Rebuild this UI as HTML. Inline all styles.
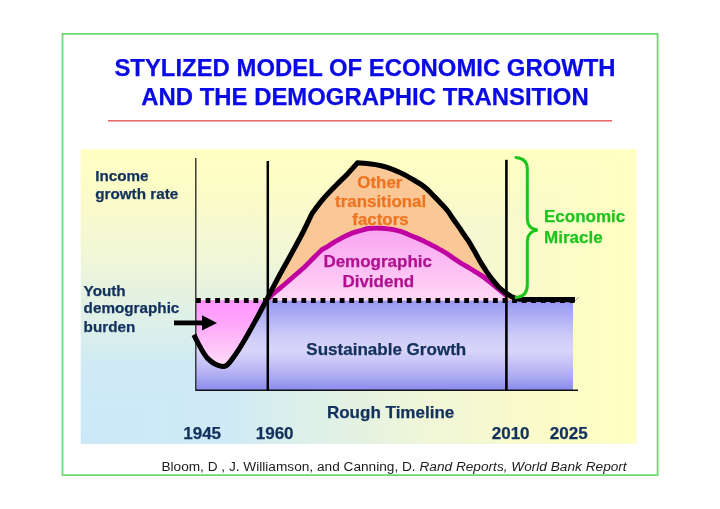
<!DOCTYPE html>
<html><head><meta charset="utf-8"><title>Stylized Model of Economic Growth</title>
<style>
html,body{margin:0;padding:0;background:#ffffff;width:720px;height:509px;overflow:hidden;}
svg{display:block;filter:blur(0.4px);font-family:"Liberation Sans",sans-serif;}
</style></head><body>
<svg width="720" height="509" viewBox="0 0 720 509">
<defs>
<linearGradient id="bgv" x1="0" y1="443.8" x2="0" y2="149.1" gradientUnits="userSpaceOnUse">
<stop offset="0" stop-color="#cce8f8"/>
<stop offset="0.27" stop-color="#cfeaf5"/>
<stop offset="0.35" stop-color="#d8eeee"/>
<stop offset="0.42" stop-color="#def0e8"/>
<stop offset="0.52" stop-color="#e6f2e0"/>
<stop offset="0.62" stop-color="#f0f6d8"/>
<stop offset="0.83" stop-color="#fbfbc9"/>
<stop offset="1" stop-color="#ffffc3"/>
</linearGradient>
<linearGradient id="bgh" x1="80.7" y1="0" x2="636.3" y2="0" gradientUnits="userSpaceOnUse">
<stop offset="0" stop-color="#cce8f8"/>
<stop offset="0.27" stop-color="#cfeaf5"/>
<stop offset="0.35" stop-color="#d8eeee"/>
<stop offset="0.42" stop-color="#def0e8"/>
<stop offset="0.52" stop-color="#e6f2e0"/>
<stop offset="0.62" stop-color="#f0f6d8"/>
<stop offset="0.83" stop-color="#fbfbc9"/>
<stop offset="1" stop-color="#ffffc3"/>
</linearGradient>
<linearGradient id="blue" x1="0" y1="300" x2="0" y2="390" gradientUnits="userSpaceOnUse">
<stop offset="0" stop-color="#9696f1"/>
<stop offset="0.22" stop-color="#b4b4f6"/>
<stop offset="0.39" stop-color="#cccaf8"/>
<stop offset="0.56" stop-color="#d9d5fa"/>
<stop offset="0.72" stop-color="#c4c0f6"/>
<stop offset="0.87" stop-color="#a8a8f2"/>
<stop offset="1" stop-color="#8a8aed"/>
</linearGradient>
<linearGradient id="pinkLow" x1="0" y1="300" x2="0" y2="366" gradientUnits="userSpaceOnUse">
<stop offset="0" stop-color="#ff94fd"/>
<stop offset="0.35" stop-color="#ffa6fb"/>
<stop offset="1" stop-color="#ffdcf8"/>
</linearGradient>
<linearGradient id="pinkUp" x1="0" y1="226" x2="0" y2="300" gradientUnits="userSpaceOnUse">
<stop offset="0" stop-color="#f9a2f2"/>
<stop offset="1" stop-color="#ffd6f6"/>
</linearGradient>
</defs>

<!-- green frame -->
<rect x="62.5" y="33.9" width="595.1" height="441.2" fill="none" stroke="#72d872" stroke-width="1.8"/>

<!-- title -->
<g fill="#0a0ae6" stroke="#0a0ae6" stroke-width="0.25" font-weight="bold" font-size="23.9" text-anchor="middle">
<text x="365" y="75.8">STYLIZED MODEL OF ECONOMIC GROWTH</text>
<text x="365" y="104.5">AND THE DEMOGRAPHIC TRANSITION</text>
</g>
<rect x="108" y="120" width="504" height="1.6" fill="#e86a6a"/>

<!-- panel -->
<rect x="80.7" y="149.1" width="555.6" height="294.7" fill="url(#bgv)"/>
<path d="M80.7,443.8 L636.3,149.1 L636.3,443.8 Z" fill="url(#bgh)"/>

<!-- sustainable growth band -->
<rect x="196" y="300" width="377" height="90" fill="url(#blue)"/>

<!-- peach area under black curve -->
<clipPath id="above"><rect x="150" y="150" width="450" height="150.3"/></clipPath>
<clipPath id="below"><rect x="196" y="300" width="80" height="90"/></clipPath>
<path clip-path="url(#above)" d="M193.9,334.8 C194.6,336.1 196.3,339.9 197.8,342.7 C199.3,345.5 201.1,348.9 202.7,351.5 C204.3,354.1 205.6,356.3 207.6,358.4 C209.6,360.4 212.2,362.5 214.5,363.8 C216.8,365.1 219.4,366.0 221.4,366.3 C223.4,366.6 224.7,366.6 226.3,365.6 C227.9,364.6 229.3,362.8 231.2,360.4 C233.1,358.0 235.6,354.4 237.7,351.2 C239.8,348.0 241.8,344.6 243.8,341.2 C245.9,337.8 247.6,334.7 250.0,330.5 C252.4,326.3 255.3,320.8 258.0,315.9 C260.7,310.9 263.8,305.1 266.1,300.8 C268.4,296.5 269.1,295.0 271.6,290.3 C274.1,285.6 277.6,278.8 281.0,272.6 C284.4,266.4 288.2,259.6 291.8,253.0 C295.4,246.4 299.2,239.6 302.6,233.0 C306.0,226.4 310.4,216.8 312.0,213.5 C313.8,211.2 318.8,204.0 322.7,199.5 C326.6,195.0 331.0,190.6 335.1,186.3 C339.2,182.0 343.8,177.8 347.5,173.9 C351.2,170.0 355.8,164.7 357.5,162.8 C359.7,163.0 367.1,163.6 370.8,164.0 C374.6,164.4 377.1,164.8 380.0,165.4 C382.9,166.0 385.5,166.9 388.3,167.8 C391.1,168.8 393.9,169.9 396.7,171.1 C399.5,172.3 402.2,173.4 405.0,174.9 C407.8,176.4 410.5,178.1 413.3,179.8 C416.1,181.5 419.4,183.3 421.7,184.9 C424.0,186.5 425.3,187.6 427.4,189.5 C429.5,191.4 432.0,194.2 434.4,196.6 C436.8,199.0 439.3,201.6 441.5,203.9 C443.7,206.2 445.4,207.9 447.4,210.5 C449.4,213.1 451.3,216.4 453.3,219.2 C455.3,222.0 457.4,224.8 459.2,227.4 C461.0,230.0 462.3,232.2 463.9,234.5 C465.5,236.8 467.0,238.6 468.7,241.3 C470.4,244.0 472.2,247.3 474.1,250.6 C476.0,253.9 478.0,257.9 480.0,261.2 C482.0,264.5 483.9,267.7 485.9,270.6 C487.9,273.6 489.6,276.1 491.8,278.9 C494.0,281.7 496.5,284.8 498.9,287.2 C501.3,289.6 503.6,291.3 506.0,293.0 C508.4,294.7 510.7,296.3 513.0,297.3 C515.3,298.3 518.8,298.9 520.0,299.2 L575,299.6 L575,305 L190,305 Z" fill="#f9c896"/>
<!-- pink upper (demographic dividend) -->
<path d="M268.5,299.3 C269.0,298.6 269.3,297.3 271.3,295.4 C273.3,293.4 277.3,290.5 280.7,287.6 C284.1,284.7 287.8,281.6 291.7,278.2 C295.6,274.8 300.6,270.6 304.3,267.2 C308.0,263.8 310.8,260.6 313.7,257.7 C316.6,254.8 320.3,251.2 321.6,249.9 C322.7,249.3 325.8,247.7 328.0,246.3 C330.2,244.9 332.4,243.2 335.0,241.7 C337.6,240.2 340.5,238.5 343.3,237.1 C346.1,235.7 348.9,234.4 351.7,233.3 C354.5,232.2 357.2,231.6 360.0,230.8 C362.8,230.0 365.5,228.9 368.3,228.5 C371.1,228.1 373.9,228.1 376.7,228.1 C379.5,228.1 382.2,228.2 385.0,228.5 C387.8,228.8 390.7,229.1 393.3,229.6 C395.9,230.1 398.1,230.6 400.7,231.4 C403.2,232.2 406.0,233.5 408.6,234.6 C411.2,235.7 413.8,236.7 416.4,237.8 C419.0,238.9 421.7,240.1 424.3,241.3 C426.9,242.6 429.8,244.0 432.2,245.3 C434.6,246.6 436.7,247.7 439.0,249.0 C441.3,250.3 443.6,251.5 446.0,253.0 C448.4,254.5 451.0,256.4 453.6,258.2 C456.2,259.9 458.8,261.9 461.4,263.5 C464.0,265.1 466.8,266.5 469.3,268.0 C471.8,269.5 474.1,271.0 476.5,272.5 C478.9,274.0 481.1,275.1 483.6,277.0 C486.2,278.9 489.3,281.6 491.8,283.6 C494.3,285.6 496.2,287.2 498.6,289.2 C501.0,291.1 504.8,294.3 506.0,295.3 L506,300.5 L268.5,300.5 Z" fill="url(#pinkUp)"/>
<!-- pink lower (youth burden) -->
<path clip-path="url(#below)" d="M193.9,334.8 C194.6,336.1 196.3,339.9 197.8,342.7 C199.3,345.5 201.1,348.9 202.7,351.5 C204.3,354.1 205.6,356.3 207.6,358.4 C209.6,360.4 212.2,362.5 214.5,363.8 C216.8,365.1 219.4,366.0 221.4,366.3 C223.4,366.6 224.7,366.6 226.3,365.6 C227.9,364.6 229.3,362.8 231.2,360.4 C233.1,358.0 235.6,354.4 237.7,351.2 C239.8,348.0 241.8,344.6 243.8,341.2 C245.9,337.8 247.6,334.7 250.0,330.5 C252.4,326.3 255.3,320.8 258.0,315.9 C260.7,310.9 263.8,305.1 266.1,300.8 C268.4,296.5 270.7,292.1 271.6,290.3 L190,285 Z" fill="url(#pinkLow)"/>
<!-- magenta line -->
<path d="M268.5,299.3 C269.0,298.6 269.3,297.3 271.3,295.4 C273.3,293.4 277.3,290.5 280.7,287.6 C284.1,284.7 287.8,281.6 291.7,278.2 C295.6,274.8 300.6,270.6 304.3,267.2 C308.0,263.8 310.8,260.6 313.7,257.7 C316.6,254.8 320.3,251.2 321.6,249.9 C322.7,249.3 325.8,247.7 328.0,246.3 C330.2,244.9 332.4,243.2 335.0,241.7 C337.6,240.2 340.5,238.5 343.3,237.1 C346.1,235.7 348.9,234.4 351.7,233.3 C354.5,232.2 357.2,231.6 360.0,230.8 C362.8,230.0 365.5,228.9 368.3,228.5 C371.1,228.1 373.9,228.1 376.7,228.1 C379.5,228.1 382.2,228.2 385.0,228.5 C387.8,228.8 390.7,229.1 393.3,229.6 C395.9,230.1 398.1,230.6 400.7,231.4 C403.2,232.2 406.0,233.5 408.6,234.6 C411.2,235.7 413.8,236.7 416.4,237.8 C419.0,238.9 421.7,240.1 424.3,241.3 C426.9,242.6 429.8,244.0 432.2,245.3 C434.6,246.6 436.7,247.7 439.0,249.0 C441.3,250.3 443.6,251.5 446.0,253.0 C448.4,254.5 451.0,256.4 453.6,258.2 C456.2,259.9 458.8,261.9 461.4,263.5 C464.0,265.1 466.8,266.5 469.3,268.0 C471.8,269.5 474.1,271.0 476.5,272.5 C478.9,274.0 481.1,275.1 483.6,277.0 C486.2,278.9 489.3,281.6 491.8,283.6 C494.3,285.6 496.2,287.2 498.6,289.2 C501.0,291.1 504.8,294.3 506.0,295.3" fill="none" stroke="#c000a0" stroke-width="4.8" stroke-linejoin="round"/>

<!-- dashed line -->
<line x1="196" y1="300.4" x2="575" y2="300.4" stroke="#000" stroke-width="5" stroke-dasharray="4.8 4.78"/>

<!-- axes -->
<line x1="195.8" y1="158" x2="195.8" y2="390.5" stroke="#222" stroke-width="1.3"/>
<line x1="195.5" y1="390.3" x2="578" y2="390.3" stroke="#111" stroke-width="1.6"/>
<line x1="267.8" y1="161" x2="267.8" y2="390.5" stroke="#000" stroke-width="2.5"/>
<line x1="506.4" y1="159.8" x2="506.4" y2="390.5" stroke="#000" stroke-width="2.6"/>

<!-- black curve -->
<path d="M193.9,334.8 C194.6,336.1 196.3,339.9 197.8,342.7 C199.3,345.5 201.1,348.9 202.7,351.5 C204.3,354.1 205.6,356.3 207.6,358.4 C209.6,360.4 212.2,362.5 214.5,363.8 C216.8,365.1 219.4,366.0 221.4,366.3 C223.4,366.6 224.7,366.6 226.3,365.6 C227.9,364.6 229.3,362.8 231.2,360.4 C233.1,358.0 235.6,354.4 237.7,351.2 C239.8,348.0 241.8,344.6 243.8,341.2 C245.9,337.8 247.6,334.7 250.0,330.5 C252.4,326.3 255.3,320.8 258.0,315.9 C260.7,310.9 263.8,305.1 266.1,300.8 C268.4,296.5 269.1,295.0 271.6,290.3 C274.1,285.6 277.6,278.8 281.0,272.6 C284.4,266.4 288.2,259.6 291.8,253.0 C295.4,246.4 299.2,239.6 302.6,233.0 C306.0,226.4 310.4,216.8 312.0,213.5 C313.8,211.2 318.8,204.0 322.7,199.5 C326.6,195.0 331.0,190.6 335.1,186.3 C339.2,182.0 343.8,177.8 347.5,173.9 C351.2,170.0 355.8,164.7 357.5,162.8 C359.7,163.0 367.1,163.6 370.8,164.0 C374.6,164.4 377.1,164.8 380.0,165.4 C382.9,166.0 385.5,166.9 388.3,167.8 C391.1,168.8 393.9,169.9 396.7,171.1 C399.5,172.3 402.2,173.4 405.0,174.9 C407.8,176.4 410.5,178.1 413.3,179.8 C416.1,181.5 419.4,183.3 421.7,184.9 C424.0,186.5 425.3,187.6 427.4,189.5 C429.5,191.4 432.0,194.2 434.4,196.6 C436.8,199.0 439.3,201.6 441.5,203.9 C443.7,206.2 445.4,207.9 447.4,210.5 C449.4,213.1 451.3,216.4 453.3,219.2 C455.3,222.0 457.4,224.8 459.2,227.4 C461.0,230.0 462.3,232.2 463.9,234.5 C465.5,236.8 467.0,238.6 468.7,241.3 C470.4,244.0 472.2,247.3 474.1,250.6 C476.0,253.9 478.0,257.9 480.0,261.2 C482.0,264.5 483.9,267.7 485.9,270.6 C487.9,273.6 489.6,276.1 491.8,278.9 C494.0,281.7 496.5,284.8 498.9,287.2 C501.3,289.6 503.6,291.3 506.0,293.0 C508.4,294.7 510.7,296.3 513.0,297.3 C515.3,298.3 518.8,298.9 520.0,299.2 L575,299.6" fill="none" stroke="#000" stroke-width="5.1" stroke-linejoin="round"/>
<path d="M575,301 L579,297" stroke="#999" stroke-width="0.8"/>

<!-- arrow -->
<rect x="174" y="320.5" width="30" height="4.8" fill="#000"/>
<path d="M202,315.3 L217,322.9 L202,330.4 Z" fill="#000"/>

<!-- brace -->
<path d="M516,157.5 Q527.3,158.5 527.3,169 L527.3,219 Q527.5,228.5 537.6,230.1 Q527.5,231.7 527.3,241 L527.3,285 Q527.3,296.5 516,297.6" fill="none" stroke="#1ec41e" stroke-width="3" stroke-linecap="round"/>

<!-- labels -->
<g font-weight="bold" fill="#12315c" stroke="#12315c" stroke-width="0.25" font-size="15.25">
<text x="95.2" y="181.2">Income</text>
<text x="95.2" y="199.3">growth rate</text>
<text x="83.6" y="295.6">Youth</text>
<text x="83.6" y="313.4">demographic</text>
<text x="83.6" y="332.1">burden</text>
</g>
<g font-weight="bold" fill="#12315c" stroke="#12315c" stroke-width="0.25" font-size="17.05">
<text x="306.3" y="355.2">Sustainable Growth</text>
<text x="326.9" y="417.6">Rough Timeline</text>
<text x="183.2" y="439">1945</text>
<text x="255.7" y="439">1960</text>
<text x="491.7" y="439">2010</text>
<text x="549.8" y="439">2025</text>
</g>
<g font-weight="bold" fill="#ee7422" stroke="#ee7422" stroke-width="0.25" font-size="16.9">
<text x="357.3" y="188.1">Other</text>
<text x="335.1" y="206.6">transitional</text>
<text x="352.3" y="224.7">factors</text>
</g>
<g font-weight="bold" fill="#b01090" stroke="#b01090" stroke-width="0.25" font-size="17">
<text x="323.4" y="267.3">Demographic</text>
<text x="342.4" y="287.2">Dividend</text>
</g>
<g font-weight="bold" fill="#1ec41e" stroke="#1ec41e" stroke-width="0.25" font-size="17">
<text x="544" y="222.2">Economic</text>
<text x="544" y="242.8">Miracle</text>
</g>

<!-- citation -->
<text x="161.4" y="470.6" font-size="13.67" fill="#1c1c1c">Bloom, D , J. Williamson, and Canning, D. <tspan font-style="italic">Rand Reports, World Bank Report</tspan></text>
</svg>
</body></html>
